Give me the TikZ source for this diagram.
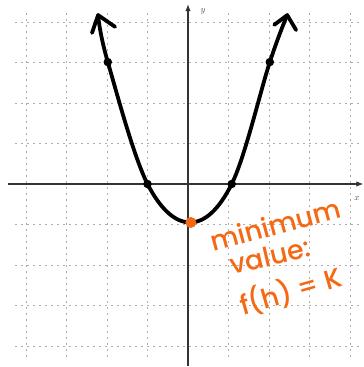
\documentclass[tikz,border=0pt]{standalone}
\usepackage{fontspec}
\newfontfamily\handfont{Poppins}[UprightFont=* Medium]
\usetikzlibrary{arrows.meta}
\definecolor{handorange}{RGB}{245,104,20}
\tikzset{
  gridline/.style={black!32, line width=0.7pt, dash pattern=on 2pt off 4pt},
  axisline/.style={black!80, line width=1.1pt, -{Latex[length=7pt,width=5.5pt]}},
  curveline/.style={black, line width=3.8pt, line cap=round, line join=round},
  blackdot/.style={circle, fill=black, inner sep=0pt, minimum size=8.5pt},
  orangedot/.style={circle, fill=handorange, inner sep=0pt, minimum size=11pt},
  handtext/.style={text=handorange, font=\handfont\fontsize{27}{31}\selectfont, inner sep=0pt},
  axislabel/.style={text=black!70, font=\small, inner sep=0pt}
}
\begin{document}
\begin{tikzpicture}[x=40.5pt,y=40.5pt]
\useasboundingbox (-4.642,-4.519) rectangle (4.346,4.543);
% grid
\foreach \i in {-4,...,4} {
  \draw[gridline] (\i,-4.27) -- (\i,4.27);
  \draw[gridline] (-4.27,\i) -- (4.27,\i);
}
% axes
\coordinate (xs) at (-4.45,0);
\coordinate (xe) at (4.33,0);
\coordinate (ys) at (0,-4.50);
\coordinate (ye) at (0,4.44);
\draw[axisline] (xs) -- (xe);
\draw[axisline] (ys) -- (ye);
\node[axislabel] (ylab) at (0.37,4.26) {$y$};
\node[axislabel] (xlab) at (4.17,-0.36) {$x$};
% curve
\coordinate (ltip) at (-2.22,4.17);
\coordinate (rtip) at (2.45,4.17);
\draw[curveline] plot[smooth, tension=0.6] coordinates {
  (-2.22,4.17) (-1.98,3.01) (-1.0,0) (0.05,-0.95) (1.08,0) (2.02,3.01) (2.45,4.17)};
\coordinate (la) at (-2.37,3.73);
\coordinate (lb) at (-1.80,3.88);
\coordinate (ra) at (2.13,3.93);
\coordinate (rb) at (2.67,3.80);
\draw[curveline] (la) -- (ltip) -- (lb);
\draw[curveline] (ra) -- (rtip) -- (rb);
% points
\node[blackdot] (p1) at (-1.98,3.01) {};
\node[blackdot] (p2) at (2.02,3.01) {};
\node[blackdot] (p3) at (-1.0,0) {};
\node[blackdot] (p4) at (1.08,0) {};
\node[orangedot] (vtx) at (0.07,-0.95) {};
% label
\node[handtext, anchor=base west, rotate=15] (t1) at (0.62,-1.68) {minimum};
\node[handtext, anchor=base west, rotate=13] (t2) at (1.10,-2.24) {value:};
\node[handtext, anchor=base west, rotate=16] (t3) at (1.36,-3.24) {f(h) = K};
\end{tikzpicture}
\end{document}
